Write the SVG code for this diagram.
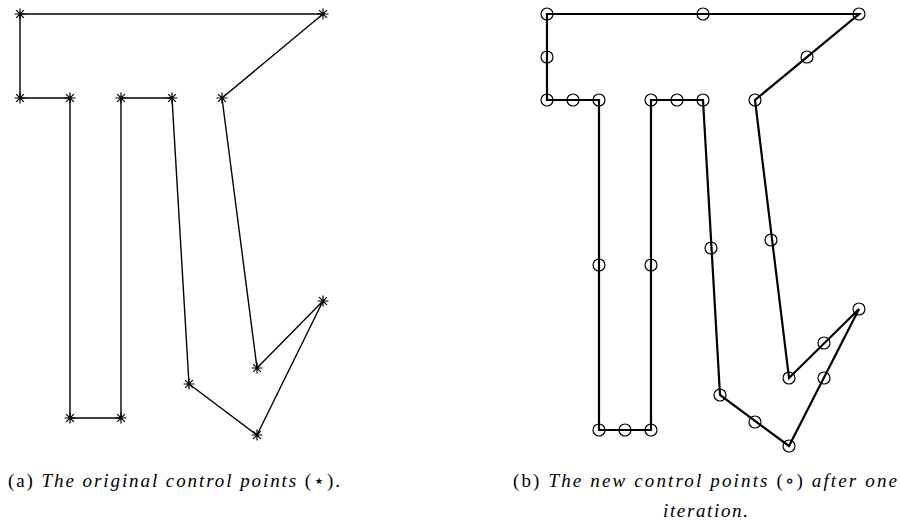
<svg xmlns="http://www.w3.org/2000/svg" xmlns:xlink="http://www.w3.org/1999/xlink" width="900" height="524" viewBox="0 0 900 524">
<style>
  .polyA { fill: none; stroke: #000; stroke-width: 1.4; stroke-linejoin: miter; }
  .polyB { fill: none; stroke: #000; stroke-width: 2.2; stroke-linejoin: miter; }
  .star { stroke: #000; stroke-width: 1.2; fill: none; }
  .circ { fill: none; stroke: #000; stroke-width: 1.2; }
  .cap { font-family: "Liberation Serif", "DejaVu Serif", serif; font-size: 19px; fill: #000; }
  .it { font-style: italic; }
</style>
<defs>
  <g id="star">
    <path class="star" d="M0,-5.5V5.5M-5.5,0H5.5M-3.9,-3.9L3.9,3.9M-3.9,3.9L3.9,-3.9"/>
  </g>
  <circle id="circ" class="circ" r="6"/>
</defs>
<rect width="900" height="524" fill="#fff"/>

<g id="connectors">
  <polygon id="poly-a" class="polyA" points="20,14 323,14 222,98 257,368 323,301 257,435 189,384 172,98 121,98 121,418 70,418 70,98 20,98"/>
  <polygon id="poly-b" class="polyB" points="547,14 859,14 755,100 789,378 859,309 789,446 720,395 703,100 651,100 651,430 599,430 599,100 547,100"/>
</g>

<g id="nodes-a">
  <use href="#star" x="20" y="14"/>
  <use href="#star" x="323" y="14"/>
  <use href="#star" x="222" y="98"/>
  <use href="#star" x="257" y="368"/>
  <use href="#star" x="323" y="301"/>
  <use href="#star" x="257" y="435"/>
  <use href="#star" x="189" y="384"/>
  <use href="#star" x="172" y="98"/>
  <use href="#star" x="121" y="98"/>
  <use href="#star" x="121" y="418"/>
  <use href="#star" x="70" y="418"/>
  <use href="#star" x="70" y="98"/>
  <use href="#star" x="20" y="98"/>
</g>

<g id="nodes-b">
  <use href="#circ" x="547" y="14"/>
  <use href="#circ" x="703" y="14"/>
  <use href="#circ" x="859" y="14"/>
  <use href="#circ" x="807" y="57"/>
  <use href="#circ" x="755" y="100"/>
  <use href="#circ" x="771" y="240"/>
  <use href="#circ" x="789" y="378"/>
  <use href="#circ" x="824" y="343"/>
  <use href="#circ" x="859" y="309"/>
  <use href="#circ" x="824" y="378"/>
  <use href="#circ" x="789" y="446"/>
  <use href="#circ" x="755" y="422"/>
  <use href="#circ" x="720" y="395"/>
  <use href="#circ" x="711" y="248"/>
  <use href="#circ" x="703" y="100"/>
  <use href="#circ" x="677" y="100"/>
  <use href="#circ" x="651" y="100"/>
  <use href="#circ" x="651" y="265"/>
  <use href="#circ" x="651" y="430"/>
  <use href="#circ" x="625" y="430"/>
  <use href="#circ" x="599" y="430"/>
  <use href="#circ" x="599" y="265"/>
  <use href="#circ" x="599" y="100"/>
  <use href="#circ" x="573" y="100"/>
  <use href="#circ" x="547" y="100"/>
  <use href="#circ" x="547" y="57"/>
</g>

<g id="captions">
  <text class="cap" x="8" y="487" textLength="332" lengthAdjust="spacing">(a) <tspan class="it">The original control points</tspan> (⋆).</text>
  <text class="cap" x="513" y="487" textLength="384" lengthAdjust="spacing">(b) <tspan class="it">The new control points</tspan> (∘) <tspan class="it">after one</tspan></text>
  <text class="cap it" x="663" y="517" textLength="85" lengthAdjust="spacing">iteration.</text>
</g>
</svg>
